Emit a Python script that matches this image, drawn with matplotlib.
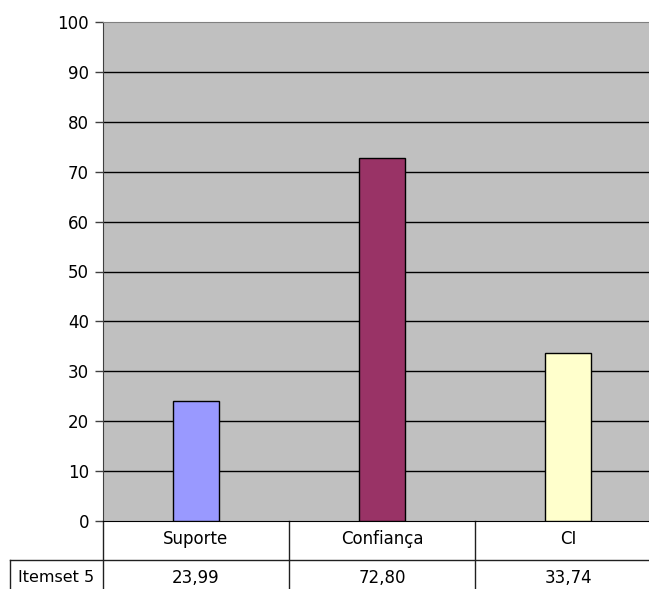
import matplotlib
matplotlib.use("Agg")
import matplotlib.pyplot as plt
import numpy as np

categories = ["Suporte", "Confiança", "CI"]
values = [23.99, 72.80, 33.74]
row_label = "Itemset 5"
bar_colors = ["#9999FF", "#993366", "#FFFFCC"]
yticks = list(range(0, 101, 10))

plt.rcParams["font.family"] = ["DejaVu Sans"]

W, H = 649, 589
fig = plt.figure(figsize=(W / 100, H / 100), dpi=100)
# plot area in pixels: left 103, top 22, bottom 521, right 661 (past the edge)
left, top, bottom, right = 103, 22, 521, 661
ax = fig.add_axes([left / W, (H - bottom) / H, (right - left) / W, (bottom - top) / H])
ax.set_facecolor("#C0C0C0")

x = np.arange(len(categories))
ax.bar(x, values, width=0.25, color=bar_colors, edgecolor="black", linewidth=1, zorder=3)
ax.set_xlim(-0.5, len(categories) - 0.5)
ax.set_ylim(0, 100)
ax.set_yticks(yticks)
ax.set_yticklabels([str(t) for t in yticks], fontsize=12)
ax.set_xticks([])
ax.tick_params(axis="y", direction="out", length=6, width=1, color="#404040", pad=4)
for t in yticks[1:-1]:
    ax.axhline(t, color="black", linewidth=1, zorder=2)

for s in ["top", "right"]:
    ax.spines[s].set_color("#808080")
ax.spines["left"].set_color("#404040")
ax.spines["bottom"].set_color("black")

# data table below the plot
rh = 39 / (bottom - top)
lab_w = (left - 10) / (right - left)
n = len(categories)
kw = dict(transform=ax.transAxes, clip_on=False, color="#202020", linewidth=1)
ax.plot([0, 0], [0, -2 * rh], **kw)
for i in range(1, n + 1):
    ax.plot([i / n, i / n], [0, -2 * rh], **kw)
ax.plot([-lab_w, 1], [-rh, -rh], **kw)
ax.plot([-lab_w, -lab_w], [-rh, -2 * rh], **kw)
ax.plot([-lab_w, 1], [-2 * rh, -2 * rh], **kw)

for i, (c, v) in enumerate(zip(categories, values)):
    xc = (i + 0.5) / n
    ax.text(xc, -0.45 * rh, c, transform=ax.transAxes, ha="center", va="center", fontsize=12)
    ax.text(xc, -1.45 * rh, f"{v:.2f}".replace(".", ","), transform=ax.transAxes,
            ha="center", va="center", fontsize=12)
ax.text(-lab_w / 2, -1.45 * rh, row_label, transform=ax.transAxes,
        ha="center", va="center", fontsize=11.5)

fig.savefig("out.png", dpi=100)
plt.close(fig)
